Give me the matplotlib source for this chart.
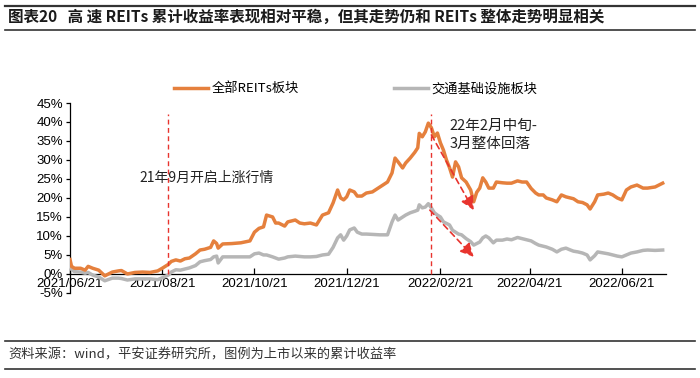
import matplotlib
matplotlib.use('Agg')
import matplotlib.pyplot as plt
import matplotlib.dates as mdates
import pandas as pd
from matplotlib.lines import Line2D
from matplotlib.ticker import FuncFormatter

plt.rcParams['font.family'] = ['Liberation Sans', 'Noto Sans CJK SC', 'DejaVu Sans']
CJK = ['Noto Sans CJK SC', 'DejaVu Sans']

dates = ["2021-06-21","2021-06-22","2021-06-24","2021-06-28","2021-07-01","2021-07-03","2021-07-06","2021-07-10","2021-07-14","2021-07-19",
         "2021-07-23","2021-07-25","2021-07-29","2021-08-03","2021-08-08","2021-08-13","2021-08-18","2021-08-21","2021-08-25","2021-08-27",
         "2021-08-30","2021-09-02","2021-09-05","2021-09-08","2021-09-12","2021-09-15","2021-09-18","2021-09-22","2021-09-24","2021-09-26",
         "2021-09-27","2021-09-30","2021-10-06","2021-10-12","2021-10-18","2021-10-21","2021-10-24","2021-10-27","2021-10-29","2021-11-02",
         "2021-11-04","2021-11-06","2021-11-10","2021-11-12","2021-11-17","2021-11-20","2021-11-23","2021-11-27","2021-12-01","2021-12-05",
         "2021-12-09","2021-12-12","2021-12-15","2021-12-17","2021-12-19","2021-12-21","2021-12-23","2021-12-26","2021-12-28","2021-12-31",
         "2022-01-03","2022-01-07","2022-01-12","2022-01-17","2022-01-20","2022-01-22","2022-01-24","2022-01-27","2022-01-29","2022-02-01",
         "2022-02-04","2022-02-06","2022-02-07","2022-02-09","2022-02-11","2022-02-13","2022-02-15","2022-02-17","2022-02-19","2022-02-21",
         "2022-02-23","2022-02-25","2022-02-27","2022-03-01","2022-03-03","2022-03-05","2022-03-07","2022-03-10","2022-03-13","2022-03-15",
         "2022-03-17","2022-03-19","2022-03-21","2022-03-23","2022-03-25","2022-03-28","2022-03-30","2022-04-03","2022-04-06","2022-04-09",
         "2022-04-13","2022-04-16","2022-04-19","2022-04-22","2022-04-25","2022-04-27","2022-04-30","2022-05-02","2022-05-06","2022-05-09",
         "2022-05-12","2022-05-15","2022-05-18","2022-05-20","2022-05-23","2022-05-26","2022-05-29","2022-05-31","2022-06-03","2022-06-05",
         "2022-06-09","2022-06-12","2022-06-15","2022-06-18","2022-06-21","2022-06-24","2022-06-27","2022-07-01","2022-07-05","2022-07-08",
         "2022-07-13","2022-07-18"]

reits_all = [3.8, 2.0, 1.5, 1.5, 1.0, 2.0, 1.5, 1.0, -0.5, 0.5, 0.8, 0.9, 0.0, 0.4, 0.5, 0.4, 0.8, 1.5, 2.5, 3.3,
             3.7, 3.4, 4.0, 4.2, 5.3, 6.3, 6.5, 7.0, 8.7, 8.0, 6.8, 7.9, 8.0, 8.2, 8.7, 11.0, 12.0, 12.4, 15.5, 15.0,
             13.4, 13.4, 12.6, 13.7, 14.2, 13.4, 13.2, 13.4, 12.9, 15.5, 16.1, 18.7, 22.1, 20.0, 19.5, 20.3, 22.1, 21.6, 20.5, 20.5,
             21.3, 21.6, 22.9, 24.2, 26.6, 30.5, 29.5, 27.9, 29.2, 30.5, 32.0, 33.2, 37.0, 36.1, 37.4, 39.7, 38.5, 36.1, 37.1, 34.5,
             32.6, 30.0, 28.0, 25.5, 29.5, 28.2, 25.3, 24.2, 22.1, 19.0, 21.5, 22.6, 25.3, 24.2, 22.6, 22.6, 24.2, 24.0, 23.9, 23.9,
             24.5, 24.2, 24.2, 22.5, 21.3, 20.8, 20.8, 20.0, 19.5, 19.0, 20.8, 20.3, 20.0, 19.8, 19.0, 18.8, 18.2, 17.1, 19.0, 20.8,
             21.0, 21.3, 20.8, 20.0, 19.5, 22.1, 22.9, 23.4, 22.6, 22.6, 22.9, 23.9]

transport = [2.5, 1.2, 0.6, 0.5, 0.2, 0.4, -0.3, -0.8, -1.8, -1.1, -1.1, -1.2, -1.6, -1.3, -1.3, -1.3, -1.5, -1.0, -0.3, 0.5,
             1.1, 1.0, 1.3, 1.6, 2.2, 3.2, 3.5, 3.8, 4.5, 4.7, 2.9, 4.5, 4.5, 4.5, 4.5, 5.3, 5.5, 5.0, 5.0, 4.5,
             4.2, 3.9, 4.2, 4.5, 4.7, 4.6, 4.5, 4.5, 4.6, 5.0, 5.2, 7.0, 9.5, 10.3, 8.9, 10.0, 11.6, 12.1, 11.0, 10.5,
             10.5, 10.4, 10.3, 10.3, 13.7, 15.5, 14.2, 15.0, 15.5, 16.1, 16.5, 16.8, 18.2, 17.4, 17.6, 18.5, 17.4, 16.1, 15.5, 15.0,
             13.7, 13.3, 12.9, 11.5, 11.0, 10.5, 10.3, 9.3, 8.5, 7.6, 8.0, 8.4, 9.5, 10.0, 9.5, 8.2, 8.9, 8.9, 9.2, 9.0,
             9.6, 9.3, 9.0, 8.7, 8.0, 7.6, 7.3, 7.1, 6.5, 5.8, 6.5, 6.8, 6.3, 6.0, 5.8, 5.5, 5.0, 3.7, 4.8, 5.8,
             5.5, 5.3, 5.0, 4.7, 4.5, 5.0, 5.5, 5.8, 6.2, 6.3, 6.2, 6.3]

series_names = ['全部REITs板块', '交通基础设施板块']
xtick_dates = ['2021-06-21', '2021-08-21', '2021-10-21', '2021-12-21', '2022-02-21', '2022-04-21', '2022-06-21']
yticks = [-5, 0, 5, 10, 15, 20, 25, 30, 35, 40, 45]

title = '图表20   高 速 REITs 累计收益率表现相对平稳，但其走势仍和 REITs 整体走势明显相关'
note1 = '21年9月开启上涨行情'
note2 = '22年2月中旬-\n3月整体回落'
source = '资料来源：wind，平安证券研究所，图例为上市以来的累计收益率'

ORANGE = '#E5803D'
GRAY = '#B6B6B6'
RED = '#E8342E'

d = pd.to_datetime(dates)
T = pd.Timestamp

fig = plt.figure(figsize=(7, 3.78), dpi=100)
ax = fig.add_axes([0.1, 0.225, 0.851, 0.5025])

l2, = ax.plot(d, transport, color=GRAY, lw=2.5, zorder=3, solid_joinstyle='round')
l1, = ax.plot(d, reits_all, color=ORANGE, lw=2.5, zorder=4, solid_joinstyle='round')

ax.set_xlim(T('2021-06-21'), T('2022-07-20'))
ax.set_ylim(-5, 45)
ax.set_yticks(yticks)
ax.yaxis.set_major_formatter(FuncFormatter(lambda v, p: f'{v:.0f}%'))
ax.set_xticks(pd.to_datetime(xtick_dates))
ax.xaxis.set_major_formatter(mdates.DateFormatter('%Y/%m/%d'))

for s in ['top', 'right']:
    ax.spines[s].set_visible(False)
ax.spines['bottom'].set_position(('data', 0))
ax.spines['bottom'].set_zorder(2)
for s in ['bottom', 'left']:
    ax.spines[s].set_color('#000000')
    ax.spines[s].set_linewidth(0.9)
ax.tick_params(axis='x', direction='in', length=4, width=0.9, pad=3, labelsize=9.5)
ax.tick_params(axis='y', direction='out', length=3, width=0.9, pad=2, labelsize=9.5)

# red dashed vertical lines
for dt in ['2021-08-25', '2022-02-15']:
    ax.plot([T(dt), T(dt)], [0, 42.2], color=RED, lw=1.0, ls=(0, (3.5, 2.5)), zorder=5)

ax.text(T('2021-08-06'), 25.3, note1, fontsize=10, family=CJK, va='center', ha='left', color='#222222')
ax.text(T('2022-02-27'), 40.8, note2, fontsize=10.5, family=CJK, va='top', ha='left', color='#222222', linespacing=1.4)

arrow_kw = dict(arrowstyle='-|>,head_length=0.5,head_width=0.25', color=RED, lw=1.2, ls=(0, (3.5, 2.5)),
                mutation_scale=16, shrinkA=0, shrinkB=0)
ax.annotate('', xy=(T('2022-03-15'), 16.8), xytext=(T('2022-02-15'), 36.6), arrowprops=arrow_kw, zorder=6)
ax.annotate('', xy=(T('2022-03-15'), 4.5), xytext=(T('2022-02-14'), 16.8), arrowprops=arrow_kw, zorder=6)

fig.legend([l1, l2], series_names, loc='center', bbox_to_anchor=(0.508, 0.765), ncol=2, frameon=False,
           prop={'family': CJK, 'size': 9.5}, handlelength=2.6, handletextpad=0.25, columnspacing=7.2)

# title and frame lines
fig.text(0.012, 0.955, title, fontsize=11.2, fontweight='bold', family=CJK, va='center', ha='left', color='#1a1a1a')
fig.add_artist(Line2D([0.007, 0.993], [0.984, 0.984], transform=fig.transFigure, color='#333333', lw=1.6))
fig.add_artist(Line2D([0.007, 0.993], [0.921, 0.921], transform=fig.transFigure, color='#333333', lw=1.2))
fig.add_artist(Line2D([0.007, 0.993], [0.098, 0.098], transform=fig.transFigure, color='#333333', lw=1.2))
fig.add_artist(Line2D([0.007, 0.993], [0.024, 0.024], transform=fig.transFigure, color='#333333', lw=1.2))
fig.text(0.012, 0.061, source, fontsize=9.5, family=CJK, va='center', ha='left', color='#333333')

fig.savefig('out.png', dpi=100)
